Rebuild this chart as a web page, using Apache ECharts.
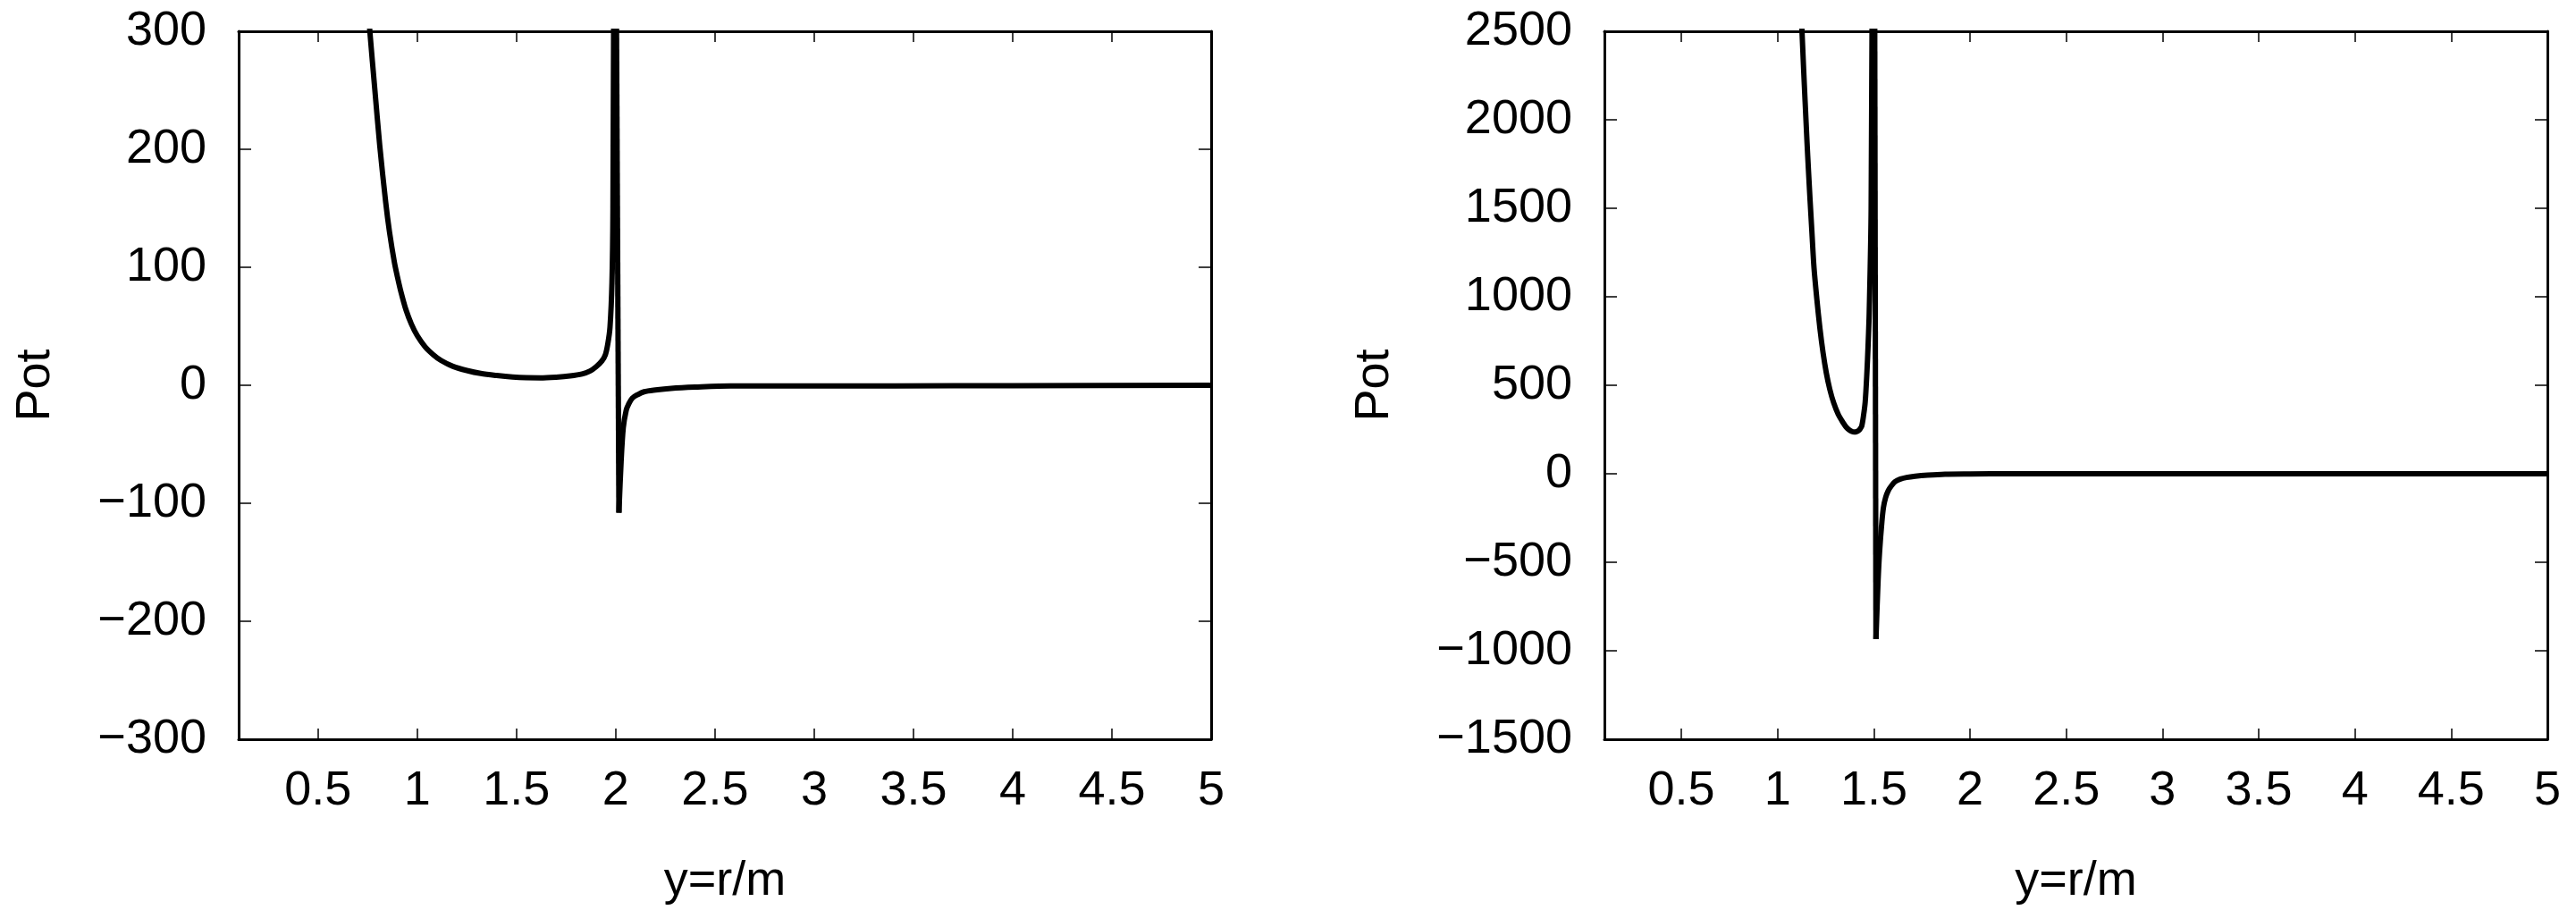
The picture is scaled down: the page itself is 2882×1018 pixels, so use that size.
<!DOCTYPE html>
<html>
<head>
<meta charset="utf-8">
<script src="https://cdn.jsdelivr.net/npm/echarts@6/dist/echarts.min.js"></script>
<style>
  html, body { margin: 0; padding: 0; background: #fff; }
  #chart { width: 2882px; height: 1018px; }
</style>
</head>
<body>
<div id="chart"></div>
<script>
// tick values shared by both panels
const xTicks = [0.5, 1, 1.5, 2, 2.5, 3, 3.5, 4, 4.5, 5];

// left panel, branch before the pole at y~2
const leftInX = [0.752, 0.762, 0.786, 0.811, 0.841, 0.86, 0.885, 0.90, 0.918, 0.943, 0.97, 1.0, 1.04, 1.08,
  1.12, 1.18, 1.25, 1.32, 1.40, 1.48, 1.55, 1.62, 1.70, 1.77, 1.83, 1.87, 1.90, 1.93, 1.948, 1.96, 1.971, 1.981, 1.986, 1.995];
const leftInPot = [320, 298, 251, 203, 155, 130, 104, 92, 79, 64, 52, 42, 32.5, 26,
  21, 16, 12.5, 10, 8.3, 7.0, 6.4, 6.3, 6.9, 7.9, 9.5, 12, 15.5, 20.5, 26, 35, 49, 87, 150, 600];
// left panel, branch after the pole
const leftOutX = [2.016, 2.027, 2.038, 2.053, 2.065, 2.083, 2.11, 2.143, 2.20, 2.279, 2.40, 2.579, 3.406, 4.0, 5.0];
const leftOutPot = [-108, -65, -36, -21, -16, -11, -8, -5.5, -4, -2.6, -1.5, -0.5, -0.5, -0.3, 0];

// right panel, before the pole at y~1.5
const rightInX = [1.124, 1.127, 1.135, 1.143, 1.153, 1.160, 1.169, 1.178, 1.189, 1.204, 1.220, 1.236, 1.253, 1.271, 1.291,
  1.315, 1.342, 1.356, 1.370, 1.384, 1.398, 1.410, 1.421, 1.429, 1.437, 1.446, 1.455, 1.464, 1.470, 1.476, 1.486, 1.500];
const rightInPot = [2560, 2492, 2290, 2100, 1870, 1720, 1540, 1370, 1165, 985, 820, 685, 570, 478, 402,
  336, 286, 264, 249, 240, 236, 238, 244, 254, 269, 325, 404, 572, 720, 909, 1500, 5000];
// right panel, after the pole
const rightOutX = [1.511, 1.522, 1.530, 1.542, 1.550, 1.561, 1.575, 1.592, 1.61, 1.638, 1.67, 1.715, 1.78, 1.870, 2.0, 2.211, 3.0, 5.0];
const rightOutPot = [-934, -606, -438, -269, -190, -135, -95, -67, -45, -30, -21, -14, -8, -3, -1.5, 0, 0, 0];

const FONT = 'Liberation Sans';
const black = '#000';
const minus = v => String(v).replace('-', '\u2212');

function xAxes(gridIndex) {
  const line = { show: true, onZero: false, lineStyle: { color: black, width: 3 } };
  const tick = { show: true, inside: true, length: 12, customValues: xTicks, lineStyle: { color: black, width: 1.5 } };
  return [
    {
      type: 'value', gridIndex, position: 'bottom', min: 0.1, max: 5,
      name: 'y=r/m', nameLocation: 'middle', nameGap: 132,
      nameTextStyle: { fontFamily: FONT, fontSize: 54, color: black },
      axisLine: line, axisTick: tick,
      axisLabel: { margin: 31, customValues: xTicks, fontFamily: FONT, fontSize: 54, color: black },
      splitLine: { show: false }
    },
    {
      type: 'value', gridIndex, position: 'top', min: 0.1, max: 5,
      axisLine: line, axisTick: tick,
      axisLabel: { show: false }, splitLine: { show: false }
    }
  ];
}

function yAxes(gridIndex, min, max, interval, nameGap) {
  const line = { show: true, onZero: false, lineStyle: { color: black, width: 3 } };
  const tick = { show: true, inside: true, length: 14, lineStyle: { color: black, width: 1.5 } };
  return [
    {
      type: 'value', gridIndex, position: 'left', min, max, interval,
      name: 'Pot', nameLocation: 'middle', nameGap,
      nameTextStyle: { fontFamily: FONT, fontSize: 54, color: black },
      axisLine: line, axisTick: tick,
      axisLabel: { margin: 36, formatter: minus, fontFamily: FONT, fontSize: 54, color: black },
      splitLine: { show: false }
    },
    {
      type: 'value', gridIndex, position: 'right', min, max, interval,
      axisLine: line, axisTick: tick,
      axisLabel: { show: false }, splitLine: { show: false }
    }
  ];
}

function curve(axisIndex, xs, ys, smooth) {
  return {
    type: 'line', xAxisIndex: axisIndex, yAxisIndex: axisIndex,
    data: xs.map((x, i) => [x, ys[i]]),
    showSymbol: false, symbol: 'none', clip: true, smooth,
    lineStyle: { color: black, width: 6, join: 'round' },
    z: 3
  };
}

// the straight jump across the pole, last point before to first point after
function jump(axisIndex, inX, inY, outX, outY) {
  return curve(axisIndex, [inX[inX.length - 1], outX[0]], [inY[inY.length - 1], outY[0]], false);
}

const chart = echarts.init(document.getElementById('chart'));
chart.setOption({
  animation: false,
  backgroundColor: '#fff',
  grid: [
    { left: 267, top: 35, width: 1088, height: 792, outerBoundsMode: 'none' },
    { left: 1795, top: 35, width: 1055, height: 792, outerBoundsMode: 'none' }
  ],
  xAxis: [...xAxes(0), ...xAxes(1)],
  yAxis: [...yAxes(0, -300, 300, 100, 200), ...yAxes(1, -1500, 2500, 500, 230)],
  series: [
    curve(0, leftInX, leftInPot, 0.3),
    jump(0, leftInX, leftInPot, leftOutX, leftOutPot),
    curve(0, leftOutX, leftOutPot, 0.3),
    curve(2, rightInX, rightInPot, 0.3),
    jump(2, rightInX, rightInPot, rightOutX, rightOutPot),
    curve(2, rightOutX, rightOutPot, 0.3)
  ]
});
</script>
</body>
</html>
